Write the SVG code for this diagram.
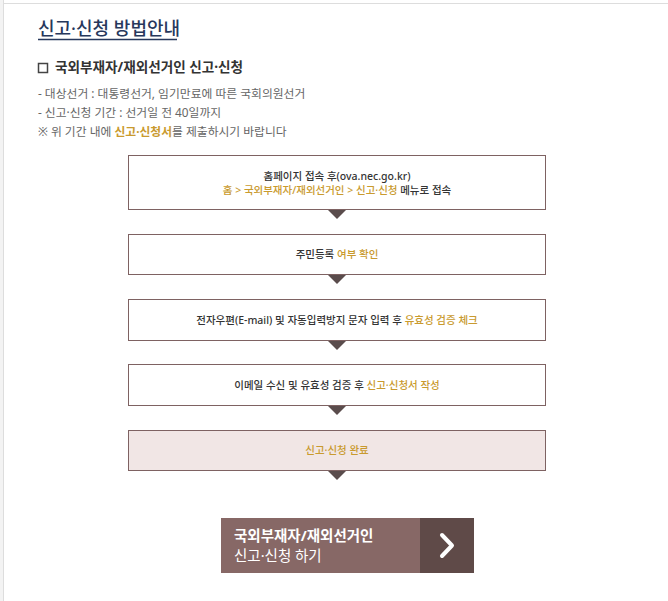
<svg xmlns="http://www.w3.org/2000/svg" width="668" height="601" viewBox="0 0 668 601">
<style>
text{font-family:"Noto Sans","Noto Sans CJK KR",sans-serif}
.box{fill:#fff;stroke:#7e6262;stroke-width:1}
.tri{fill:#5a4c4c}
.t{font-size:10.5px;fill:#333;text-anchor:middle;font-weight:500}
.g{fill:#c99a2e}
.info{font-size:11.8px;fill:#666}
</style>
<rect x="0" y="0" width="668" height="601" fill="#fff"/>
<rect x="0" y="0" width="3" height="601" fill="#f3f3f3"/>
<line x1="3.5" y1="0" x2="3.5" y2="601" stroke="#ddd"/>
<line x1="3" y1="3.5" x2="668" y2="3.5" stroke="#ddd"/>

<g id="title">
<text x="38" y="35" font-size="18" font-weight="500" fill="#27385c">신고·신청 방법안내</text>
<line x1="38" y1="39.5" x2="177" y2="39.5" stroke="#27385c" stroke-width="1.5"/>
</g>
<g id="subtitle">
<rect x="38.5" y="63.5" width="9" height="9" fill="none" stroke="#444" stroke-width="1.5"/>
<text x="55" y="72" font-size="13.6" font-weight="700" fill="#333">국외부재자/재외선거인 신고·신청</text>
</g>
<g id="info">
<text class="info" x="38" y="98">- 대상선거 : 대통령선거, 임기만료에 따른 국회의원선거</text>
<text class="info" x="38" y="117">- 신고·신청 기간 : 선거일 전 40일까지</text>
<text class="info" x="38" y="136">※ 위 기간 내에 <tspan class="g" font-weight="700">신고·신청서</tspan>를 제출하시기 바랍니다</text>
</g>

<g id="step1">
<rect class="box" x="128.5" y="155.5" width="417" height="54"/>
<text class="t" x="337" y="180">홈페이지 접속 후(ova.nec.go.kr)</text>
<text class="t" x="337" y="194"><tspan class="g">홈 &gt; 국외부재자/재외선거인 &gt; 신고·신청</tspan> 메뉴로 접속</text>
</g>
<g id="step2">
<rect class="box" x="128.5" y="234.5" width="417" height="40"/>
<text class="t" x="337" y="258">주민등록 <tspan class="g">여부 확인</tspan></text>
</g>
<g id="step3">
<rect class="box" x="128.5" y="299.5" width="417" height="41"/>
<text class="t" x="337" y="324">전자우편(E-mail) 및 자동입력방지 문자 입력 후 <tspan class="g">유효성 검증 체크</tspan></text>
</g>
<g id="step4">
<rect class="box" x="128.5" y="364.5" width="417" height="41"/>
<text class="t" x="337" y="389">이메일 수신 및 유효성 검증 후 <tspan class="g">신고·신청서 작성</tspan></text>
</g>
<g id="step5">
<rect class="box" x="128.5" y="430.5" width="417" height="40" style="fill:#f1e6e5"/>
<text class="t g" x="337" y="454">신고·신청 완료</text>
</g>

<g id="connectors">
<polygon class="tri" points="328,210 346,210 337,219"/>
<polygon class="tri" points="328,275 346,275 337,284"/>
<polygon class="tri" points="328,341 346,341 337,350"/>
<polygon class="tri" points="328,406 346,406 337,415"/>
<polygon class="tri" points="328,471 346,471 337,480"/>
</g>

<g id="button">
<rect x="221" y="518" width="253" height="55" fill="#876866"/>
<rect x="420" y="518" width="54" height="55" fill="#5f4a48"/>
<text x="234" y="541" font-size="14.5" font-weight="700" fill="#fff">국외부재자/재외선거인</text>
<text x="234" y="561" font-size="14.5" fill="#fff">신고·신청 하기</text>
<polyline points="442,535 452,545.5 442,556" fill="none" stroke="#fff" stroke-width="4" stroke-linecap="round" stroke-linejoin="round"/>
</g>
</svg>
